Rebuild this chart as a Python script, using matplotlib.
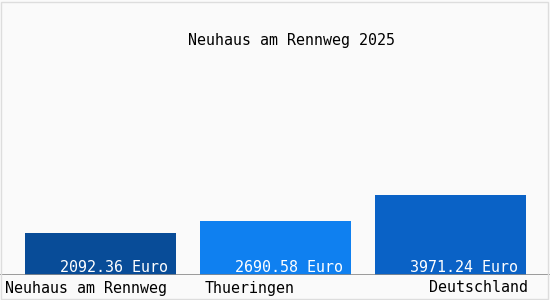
import matplotlib.pyplot as plt
from matplotlib.patches import Rectangle

# data
categories = ['Neuhaus am Rennweg', 'Thueringen', 'Deutschland']
values = [2092.36, 2690.58, 3971.24]
bar_colors = ['#084c98', '#0f80f0', '#0a62c6']
title = 'Neuhaus am Rennweg 2025'

W, H = 550, 300
fig = plt.figure(figsize=(W / 100, H / 100), dpi=100)
fig.patch.set_facecolor('#fafafa')

# axes in pixel terms: left 0, right 550, baseline y=275, top y=60
ax = fig.add_axes([0, (H - 275) / H, 1, (275 - 60) / H])
ax.set_facecolor('#fafafa')
ax.set_xlim(0, W)
ax.set_ylim(0, (275 - 60) * 49.75)
ax.axis('off')

font = dict(family='DejaVu Sans Mono', size=10.8)

lefts = [25, 200, 375]
bar_w = 151
ax.bar(lefts, values, width=bar_w, align='edge', color=bar_colors)
for x, v in zip(lefts, values):
    ax.text(x + bar_w - 8, 0, f'{v:.2f} Euro', color='white', ha='right',
            va='bottom', **font)

# baseline
ax.axhline(0, color='#8a8a8a', lw=1.2, zorder=3)

# category labels
label_pos = [(5, 'left'), (205, 'left'), (528, 'right')]
for (x, ha), name in zip(label_pos, categories):
    fig.text(x / W, 1 - 288 / H, name, ha=ha, va='center', **font)

fig.text(292 / W, 1 - 40 / H, title, ha='center', va='center', **font)

# light frame round the picture
fig.patches.append(Rectangle((0.5 / W, 1.5 / H), (W - 3) / W, (H - 3) / H,
                             transform=fig.transFigure, fill=False,
                             edgecolor='#dddddd', lw=1))

fig.savefig('out.png', dpi=100, facecolor=fig.get_facecolor())
